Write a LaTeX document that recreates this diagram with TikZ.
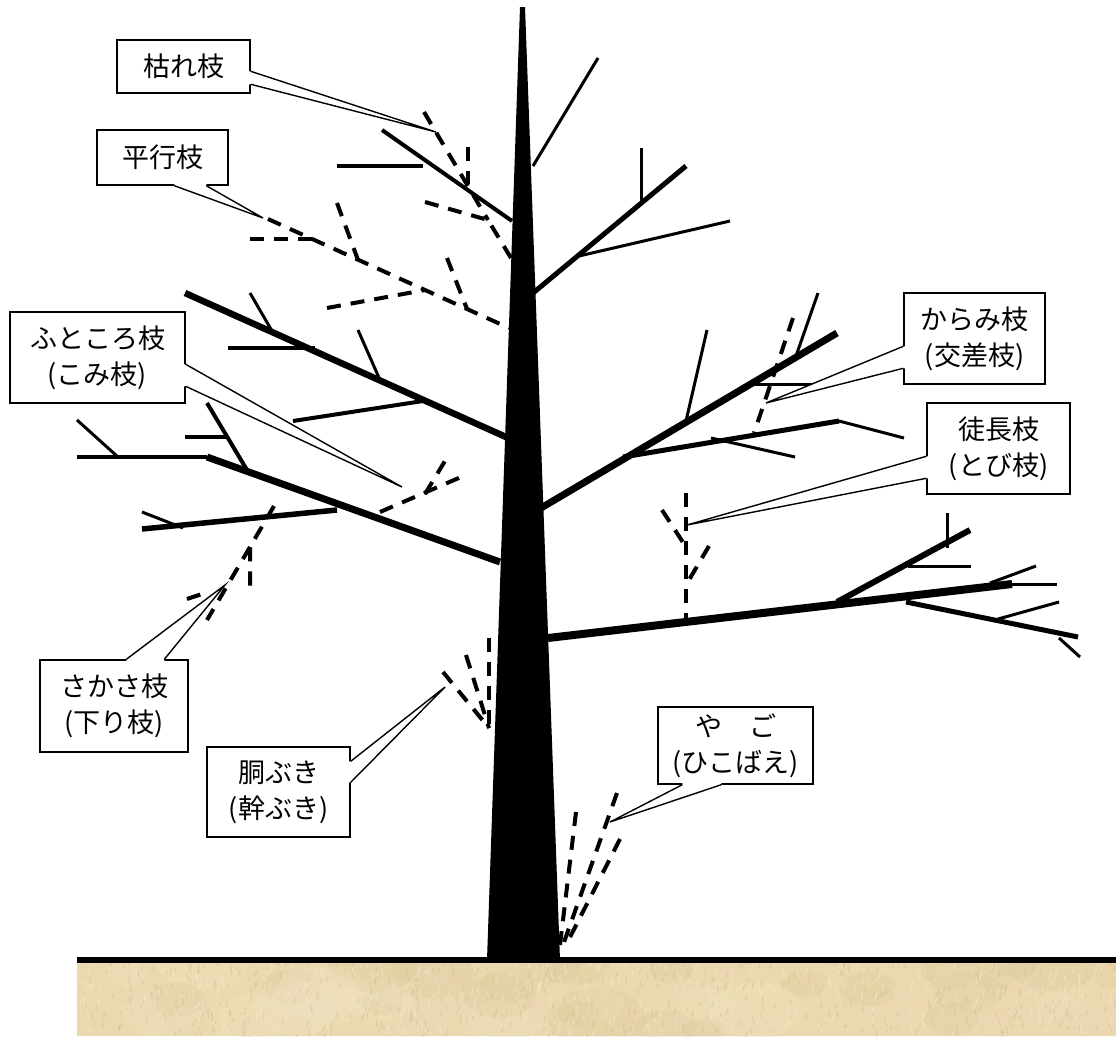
\documentclass[tikz,border=0pt]{standalone}
\usepackage{fontspec}
\newfontfamily\jpfont{Noto Sans CJK JP}
\usetikzlibrary{calc}

\definecolor{soil}{RGB}{234,217,174}
\definecolor{soilhi}{RGB}{245,234,204}
\definecolor{soillo}{RGB}{212,192,146}
\definecolor{soilpink}{RGB}{240,215,192}

\tikzset{
  limb/.style={line width=#1},
  twig/.style={line width=3},
  deadwood/.style={line width=4, dash pattern=on 14pt off 10pt},
  lbl/.style={draw, line width=1.4, fill=white, inner sep=0pt, align=center,
              font=\jpfont\fontsize{27}{36}\selectfont},
  callline/.style={line width=1.4},
}

% pointer of a speech box: base points #1,#2 on the box edge, tip #3,
% #4 = small shift into the box so the edge under the base is hidden
\newcommand{\calloutptr}[4]{%
  \fill[white] ($(#1)+(#4)$) -- (#1) -- (#3) -- (#2) -- ($(#2)+(#4)$) -- cycle;
  \draw[callline] (#1) -- (#3) -- (#2);
}

\begin{document}
\begin{tikzpicture}[x=1pt,y=-1pt]
\useasboundingbox (0,0) rectangle (1116,1036);

% ---------- soil ----------
\begin{scope}
  \clip (77,963) rectangle (1116,1036);
  \fill[soil] (77,963) rectangle (1116,1036);
  \pgfmathsetseed{4242}
  \foreach \k in {1,...,60}{
    \pgfmathsetmacro{\px}{77+1039*rnd}
    \pgfmathsetmacro{\py}{963+75*rnd}
    \pgfmathsetmacro{\rr}{20+30*rnd}
    \pgfmathsetmacro{\sh}{int(3*rnd)}
    \ifcase\sh \def\cc{soilhi}\or \def\cc{soillo}\or \def\cc{soilpink}\else \def\cc{soilhi}\fi
    \fill[\cc, opacity=0.18] (\px,\py) ellipse ({\rr} and {\rr*0.6});
  }
  \foreach \k in {1,...,1400}{
    \pgfmathsetmacro{\px}{77+1039*rnd}
    \pgfmathsetmacro{\py}{963+75*rnd}
    \pgfmathsetmacro{\ang}{-60-50*rnd}
    \pgfmathsetmacro{\len}{3+6*rnd}
    \pgfmathsetmacro{\sh}{int(3*rnd)}
    \ifcase\sh \def\cc{soilhi}\or \def\cc{soillo}\or \def\cc{soilpink}\else \def\cc{soilhi}\fi
    \draw[\cc, line width=1.2, opacity=0.5] (\px,\py) -- ++(\ang:\len);
  }
\end{scope}
\draw[line width=6.5] (77,960) -- (1116,960);

% ---------- trunk ----------
\fill (520,7) -- (525,7) -- (560,960) -- (487,960) -- cycle;

% ---------- live branches, left ----------
\draw[limb=4] (382,130) -- (512,221);
\draw[limb=4] (337,166) -- (423,166);

\draw[limb=6.5] (185,293) -- (506,437);
\draw[twig] (250,293) -- (272,331);
\draw[limb=3.5] (228,348) -- (315,348);
\draw[twig] (358,330) -- (380,380);
\draw[limb=4] (293,421) -- (423,401);

\draw[limb=7] (207,457) -- (500,562);
\draw[limb=4] (77,457) -- (207,457);
\draw[twig] (77,420) -- (118,457);
\draw[limb=4] (207,403) -- (247,470);
\draw[limb=4] (185,437) -- (227,437);
\draw[limb=5.5] (142,529) -- (337,510);
\draw[twig] (142,512) -- (183,528);

% ---------- live branches, right ----------
\draw[twig] (533,166) -- (598,58);
\draw[limb=5] (533,293) -- (686,166);
\draw[twig] (641,148) -- (641,203);
\draw[twig] (579,256) -- (730,221);

\draw[limb=7] (541,508) -- (837,333);
\draw[twig] (707,330) -- (686,421);
\draw[twig] (751,384) -- (814,384);
\draw[twig] (818,293) -- (796,356);
\draw[limb=5] (623,457) -- (839,421);
\draw[twig] (839,421) -- (904,438);
\draw[twig] (711,438) -- (795,457);

\draw[limb=8] (548,638) -- (1012,584);
\draw[limb=6] (837,602) -- (970,530);
\draw[twig] (947,513) -- (947,548);
\draw[twig] (908,566) -- (971,566);
\draw[twig] (990,583) -- (1036,566);
\draw[twig] (1012,584) -- (1057,584);
\draw[limb=5] (906,602) -- (1078,637);
\draw[twig] (998,619) -- (1059,602);
\draw[twig] (1059,638) -- (1080,657);

% ---------- branches to be pruned ----------
% dead branch
\draw[deadwood] (424,112) -- (488,220);
\draw[deadwood] (468,147) -- (468,184);
\draw[deadwood] (425,202) -- (488,220) -- (511,258);
% parallel branches
\draw[deadwood] (250,239) -- (313,239);
\draw[deadwood] (268,219) -- (509,328);
\draw[deadwood] (337,203) -- (358,260);
\draw[deadwood] (447,258) -- (467,309);
\draw[deadwood] (327,308) -- (425,290);
% inner branches
\draw[deadwood] (380,512) -- (468,474);
\draw[deadwood] (425,494) -- (448,456);
% downward branches
\draw[deadwood] (274,506) -- (250,547) -- (250,592);
\draw[deadwood] (250,547) -- (207,620);
\draw[deadwood] (187,599) -- (205,593);
% crossing branch
\draw[deadwood] (793,318) -- (754,433);
% water sprout
\draw[deadwood] (686,493) -- (686,622);
\draw[deadwood] (662,510) -- (686,547);
\draw[deadwood] (709,546) -- (686,585);
% trunk sprouts
\draw[deadwood] (489,638) -- (489,728);
\draw[deadwood] (466,655) -- (489,728);
\draw[deadwood] (443,672) -- (489,728);
% suckers
\draw[deadwood] (576,812) -- (560,945);
\draw[deadwood] (617,793) -- (563,945);
\draw[deadwood] (620,839) -- (566,945);

% ---------- labels ----------
\node[lbl, minimum width=133pt, minimum height=53pt] (kare) at (183.5,66.5) {枯れ枝};
\coordinate (kare-a) at ($(kare.north east)+(0,32)$);
\coordinate (kare-b) at ($(kare.north east)+(0,45)$);
\coordinate (kare-tip) at (436,132);
\calloutptr{kare-a}{kare-b}{kare-tip}{-3,0}

\node[lbl, minimum width=131pt, minimum height=55pt] (heiko) at (162.5,157.5) {平行枝};
\coordinate (heiko-a) at ($(heiko.south west)+(78,0)$);
\coordinate (heiko-b) at ($(heiko.south west)+(110,0)$);
\coordinate (heiko-tip) at (263,218);
\calloutptr{heiko-a}{heiko-b}{heiko-tip}{0,-3}

\node[lbl, minimum width=175pt, minimum height=91pt] (futo) at (97.5,357.5) {ふところ枝\\(こみ枝)};
\coordinate (futo-a) at ($(futo.north east)+(0,53)$);
\coordinate (futo-b) at ($(futo.north east)+(0,75)$);
\coordinate (futo-tip) at (402,487);
\calloutptr{futo-a}{futo-b}{futo-tip}{-3,0}

\node[lbl, minimum width=141pt, minimum height=91pt] (karami) at (974.5,338.5) {からみ枝\\(交差枝)};
\coordinate (karami-a) at ($(karami.north west)+(0,54)$);
\coordinate (karami-b) at ($(karami.north west)+(0,76)$);
\coordinate (karami-tip) at (766,403);
\calloutptr{karami-a}{karami-b}{karami-tip}{3,0}

\node[lbl, minimum width=143pt, minimum height=91pt] (tocho) at (998.5,448.5) {徒長枝\\(とび枝)};
\coordinate (tocho-a) at ($(tocho.north west)+(0,54)$);
\coordinate (tocho-b) at ($(tocho.north west)+(0,76)$);
\coordinate (tocho-tip) at (687,525);
\calloutptr{tocho-a}{tocho-b}{tocho-tip}{3,0}

\node[lbl, minimum width=148pt, minimum height=92pt] (sakasa) at (114,706) {さかさ枝\\(下り枝)};
\coordinate (sakasa-a) at ($(sakasa.north west)+(87,0)$);
\coordinate (sakasa-b) at ($(sakasa.north west)+(125,0)$);
\coordinate (sakasa-tip) at (225,585);
\calloutptr{sakasa-a}{sakasa-b}{sakasa-tip}{0,3}

\node[lbl, minimum width=143pt, minimum height=90pt] (dobuki) at (278.5,792) {胴ぶき\\(幹ぶき)};
\coordinate (dobuki-a) at ($(dobuki.north east)+(0,15)$);
\coordinate (dobuki-b) at ($(dobuki.north east)+(0,36)$);
\coordinate (dobuki-tip) at (445,687);
\calloutptr{dobuki-a}{dobuki-b}{dobuki-tip}{-3,0}

\node[lbl, minimum width=155pt, minimum height=77pt] (yago) at (735.5,745.5) {や　ご\\(ひこばえ)};
\coordinate (yago-a) at ($(yago.south west)+(25,0)$);
\coordinate (yago-b) at ($(yago.south west)+(64,0)$);
\coordinate (yago-tip) at (610,822);
\calloutptr{yago-a}{yago-b}{yago-tip}{0,-3}

\end{tikzpicture}
\end{document}
